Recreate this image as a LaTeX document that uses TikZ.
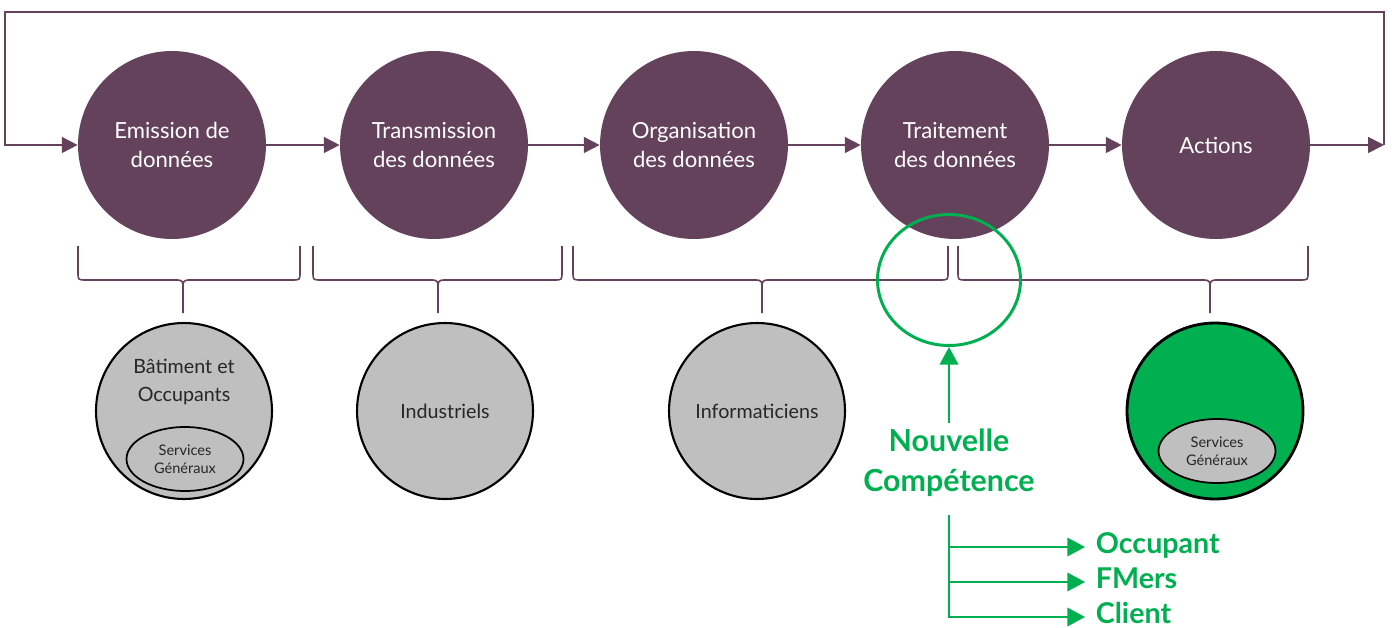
\documentclass[tikz,border=0pt]{standalone}
\usepackage{fontspec}
\setmainfont{Lato}
\usetikzlibrary{arrows.meta,shapes.geometric,positioning}

\definecolor{prune}{HTML}{65425B}
\definecolor{vertvif}{HTML}{00B050}
\definecolor{grisclair}{HTML}{BFBFBF}

\tikzset{
  etape/.style={circle, fill=prune, minimum size=3.76cm, inner sep=0pt,
    text=white, align=center, font=\fontsize{12.6}{17}\selectfont},
  acteur/.style={circle, draw=black, line width=1.2pt, fill=grisclair,
    minimum size=3.52cm, inner sep=0pt},
  acteurtxt/.style={align=center, text=black!85, font=\fontsize{11.2}{15.5}\selectfont},
  sousgroupe/.style={ellipse, draw=black, line width=1pt, fill=grisclair,
    minimum width=2.34cm, minimum height=1.28cm, inner sep=0pt, align=center,
    text=black!85, font=\fontsize{8.3}{10}\selectfont},
  fleche/.style={draw=prune, line width=1pt, -{Triangle[length=9pt,width=9pt]}},
  accolade/.style={draw=prune, line width=0.9pt},
  flechevert/.style={draw=vertvif, line width=1.1pt, -{Triangle[length=10pt,width=10.5pt]}},
  choix/.style={anchor=west, text=vertvif, inner xsep=6pt, text height=0.95em,
    text depth=0.25em, font=\fontsize{16.3}{20}\selectfont\bfseries}
}

\begin{document}
\begin{tikzpicture}[x=0.02cm,y=-0.02cm]
  \useasboundingbox (0,0) rectangle (1392,628);

  % Etapes de la chaine de donnees
  \node[etape] (emission)     at (172,145)  {Emission de\\données};
  \node[etape] (transmission) at (434,145)  {Transmission\\des données};
  \node[etape] (organisation) at (694,145)  {Organisation\\des données};
  \node[etape] (traitement)   at (955,145)  {Traitement\\des données};
  \node[etape] (actions)      at (1216,145) {Actions};

  % Fleches entre les etapes
  \draw[fleche] (emission) -- (transmission);
  \draw[fleche] (transmission) -- (organisation);
  \draw[fleche] (organisation) -- (traitement);
  \draw[fleche] (traitement) -- (actions);

  % Boucle de retour
  \coordinate (sortie) at (1384,145);
  \coordinate (entree) at (5,145);
  \draw[fleche] (actions) -- (sortie);
  \draw[fleche] (sortie) -- (sortie |- 0,12) -| (entree) -- (emission);

  % Accolades
  \foreach \a/\m/\b in {78/183/300, 313/438/562, 573/762/948, 958/1210/1308}
    \draw[accolade] (\a,246) -- (\a,272) .. controls (\a,280) .. (\a+8,280)
      -- (\m-8,280) .. controls (\m,280) .. (\m,292) -- (\m,313)
      (\m,292) .. controls (\m,280) .. (\m+8,280)
      -- (\b-8,280) .. controls (\b,280) .. (\b,272) -- (\b,246);

  % Acteurs
  \node[acteur] (batiment) at (184,411) {};
  \node[acteurtxt] (batimenttxt) at (184,382) {Bâtiment et\\Occupants};
  \node[sousgroupe] (servgen) at (185,459) {Services\\Généraux};

  \node[acteur] (industriels) at (445,411) {};
  \node[acteurtxt] at (industriels) {Industriels};

  \node[acteur] (informaticiens) at (757,411) {};
  \node[acteurtxt] at (informaticiens) {Informaticiens};

  \node[acteur, fill=vertvif, line width=1.6pt] (cibles) at (1215,411) {};
  \node[sousgroupe] (servgenbis) at (1217,451) {Services\\Généraux};

  % Nouvelle competence
  \node[ellipse, draw=vertvif, line width=1.7pt, minimum width=2.86cm,
    minimum height=2.62cm] (focus) at (949,280) {};
  \node[align=center, text=vertvif, font=\fontsize{17.3}{23}\selectfont\bfseries]
    (nouvelle) at (949,463) {Nouvelle\\Compétence};
  \draw[flechevert] (nouvelle.north) -- (focus.south);

  \coordinate (tronc) at (949,515);
  \node[choix] (occupant) at (1085,547) {Occupant};
  \node[choix] (fmers)    at (1085,582) {FMers};
  \node[choix] (client)   at (1085,617) {Client};
  \draw[flechevert] (tronc) |- (client.west);
  \foreach \c in {occupant,fmers}
    \draw[flechevert] (tronc |- \c.west) -- (\c.west);
\end{tikzpicture}
\end{document}
